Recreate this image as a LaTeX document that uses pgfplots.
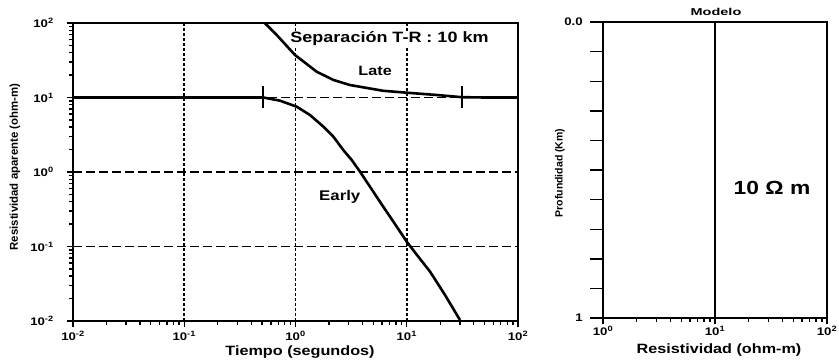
\documentclass[border=0pt]{standalone}
\usepackage{pgfplots}
\pgfplotsset{compat=1.18}
\usepackage{graphicx}
\usepackage{fontspec}
\setmainfont{Liberation Sans}
\newfontfamily\wide{Liberation Sans}[FakeStretch=1.2]
\begin{document}
\begin{tikzpicture}
\useasboundingbox (0pt,0pt) rectangle (839pt,361pt);
\pgfplotsset{
  tick label style={font=\wide\bfseries\fontsize{11}{12}\selectfont},
  every tick/.style={black,line width=1.4pt},
  tick align=outside,
  major tick length=6pt, minor tick length=4pt,
}
% ---------------- left: apparent resistivity ----------------
\begin{axis}[
  at={(73pt,40pt)}, anchor=south west,
  scale only axis, width=445pt, height=298pt,
  line width=2pt,
  xmode=log, ymode=log,
  xmin=0.01, xmax=100, ymin=0.01, ymax=100,
  xtick={0.01,0.1,1,10,100},
  xticklabels={10\textsuperscript{-2},10\textsuperscript{-1},10\textsuperscript{0},10\textsuperscript{1},10\textsuperscript{2}},
  ytick={0.01,0.1,1,10,100},
  yticklabels={10\textsuperscript{-2},10\textsuperscript{-1},10\textsuperscript{0},10\textsuperscript{1},10\textsuperscript{2}},
  tick label style={font=\wide\bfseries\fontsize{11}{12}\selectfont},
  yticklabel shift=9pt,
  xticklabel shift=0pt,
  tick pos=left,
  xmajorgrids, ymajorgrids,
  major x grid style={black, line width=1.8pt, dash pattern=on 2.5pt off 2.5pt},
  major y grid style={black, line width=1.6pt, dash pattern=on 9pt off 4pt},
  clip=false,
]
\addplot[black, line width=2.6pt] coordinates {
 (0.01,10) (0.514,10.0) (0.726,9.06) (1.025,7.53) (1.35,5.82) (1.78,4.06) (2.19,2.98)
 (2.69,1.97) (3.20,1.45) (3.80,1.01) (4.84,0.586) (6.15,0.342) (7.84,0.200)
 (10.0,0.116) (12.7,0.073) (16.2,0.046) (22.1,0.0223) (30.1,0.0103)};
\addplot[black, line width=2.6pt] coordinates {
 (0.53,100) (0.678,69) (0.99,37.2) (1.55,22.2) (2.19,17.2) (3.09,14.7) (6.15,12.3)
 (10,11.6) (18.6,10.8) (31.2,10.1) (50,10) (100,10)};
\addplot[only marks, mark=|, mark size=11pt, mark options={line width=2pt}, black] coordinates {(0.514,10) (31.2,10)};
\node[font=\wide\bfseries\fontsize{15}{17}\selectfont, fill=white, inner sep=1pt] at (axis cs:7.0,61) {Separación T-R : 10 km};
\node[font=\wide\bfseries\fontsize{13.5}{15}\selectfont] at (axis cs:5.2,22.9) {Late};
\node[font=\wide\bfseries\fontsize{14}{16}\selectfont] at (axis cs:2.5,0.46) {Early};
\end{axis}
% ---------------- right: model ----------------
\begin{axis}[
  at={(603pt,43pt)}, anchor=south west,
  scale only axis, width=224pt, height=296pt,
  line width=2pt,
  xmode=log,
  xmin=1, xmax=100, ymin=0, ymax=1, y dir=reverse,
  xtick={1,10,100},
  xticklabels={10\textsuperscript{0},10\textsuperscript{1},10\textsuperscript{2}},
  tick label style={font=\wide\bfseries\fontsize{11}{12}\selectfont},
  ytick=\empty,
  extra y ticks={0,0.1,0.2,0.3,0.4,0.5,0.6,0.7,0.8,0.9,1},
  extra y tick labels={0.0,,,,,,,,,,1},
  extra y tick style={major tick length=13pt, yticklabel shift=3pt},
  xticklabel shift=-2pt,
  tick pos=left,
  clip=false,
]
\addplot[black, line width=2.2pt] coordinates {(10,0) (10,1)};
\node[font=\wide\bfseries\fontsize{19}{21}\selectfont] at (axis cs:32.3,0.56) {10 Ω m};
\end{axis}
% ---------------- labels ----------------
\node[font=\wide\bfseries\fontsize{13.5}{15}\selectfont] at (300pt,9pt) {Tiempo (segundos)};
\node[font=\wide\bfseries\fontsize{13.5}{15}\selectfont] at (719pt,11pt) {Resistividad (ohm-m)};
\node[font=\bfseries\fontsize{11.4}{13}\selectfont, rotate=90] at (15pt,194pt) {Resistividad aparente (ohm-m)};
\node[font=\bfseries\fontsize{10.5}{12}\selectfont, rotate=90] at (560pt,188pt) {Profundidad (Km)};
\node[font=\bfseries\fontsize{10}{12}\selectfont] at (716pt,349pt) {\scalebox{1.45}[1]{Modelo}};
\end{tikzpicture}
\end{document}
